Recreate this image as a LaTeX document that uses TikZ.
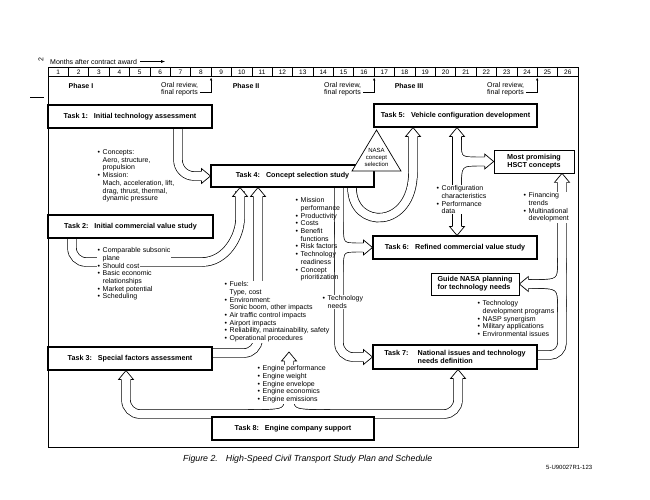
\documentclass[tikz,border=0pt]{standalone}
\usepackage{fontspec}
\setmainfont{Liberation Sans}
\usetikzlibrary{arrows.meta}
\pgfdeclarelayer{back}
\pgfdeclarelayer{arw}
\pgfsetlayers{back,arw,main}
\newcommand\mybul{\makebox[5pt][l]{\textbullet}}
\newcommand\myind{\hspace*{5pt}}
\newcommand\myfs[1]{\fontsize{#1}{7.7}\selectfont}
\newcommand\hsctshafts[1]{%
 \draw[#1, rounded corners=16pt] (178,0 |- t1.south) -- (178,176) -- (202,176);
 \draw[#1, rounded corners=14pt] (72,0 |- t2.south) -- (72,262) -- (188,262) .. controls (226,262) and (240,236) .. (240,205) -- (240,196);
 \draw[#1, rounded corners=14pt] (t3.east |- 0,353) -- (258,353) -- (258,196);
 \draw[#1] (352,0 |- t4.south) .. controls (352,230) and (413,230) .. (413,172) -- (413,136);
 \draw[#1, rounded corners=14pt] (339,0 |- t4.south) -- (339,357) -- (364,357);
 \draw[#1] (339,222) .. controls (339,247.5) .. (364,247.5);
 \draw[#1] (339,272) .. controls (339,247.5) .. (364,247.5);
 \draw[#1] (457,136) -- (457,227);
 \draw[#1] (457,140) .. controls (457,161.5) .. (485,161.5);
 \draw[#1] (457,192) .. controls (457,161.5) .. (485,161.5);
 \draw[#1, rounded corners=12pt] (t7.east |- 0,355) -- (562,355) -- (562,182);
 \draw[#1] (562,258) .. controls (562,284) .. (528,284);
 \draw[#1] (562,312) .. controls (562,284) .. (528,284);
 \draw[#1, rounded corners=14pt] (126,379) -- (126,414) -- (458,414) -- (458,378);
 \draw[#1] (248,414) .. controls (289,414) .. (289,390) -- (289,361);
 \draw[#1] (330,414) .. controls (289,414) .. (289,390);
}
\begin{document}
\begin{tikzpicture}[x=1pt,y=-1pt,
  taskbox/.style={draw, line width=1.1pt, fill=white, inner sep=0pt, font=\bfseries\myfs{7.2}, align=center},
  thinbox/.style={draw, line width=0.7pt, fill=white, inner sep=0pt, font=\bfseries\myfs{7.2}},
  lst/.style={anchor=north west, inner sep=0.5pt, font=\myfs{7}, align=left},
  lstm/.style={lst, fill=white},
  sh1/.style={draw=black, line width=9.4pt},
  sh2/.style={draw=white, line width=8pt},
  thin/.style={line width=0.6pt},
  hd/.pic={
    \fill[white] (-7.5,9) -- (0,0) -- (7.5,9) -- cycle;
    \draw[line width=0.7pt, line join=miter] (-4.7,9) -- (-7.5,9) -- (0,0) -- (7.5,9) -- (4.7,9);
  },
]
\useasboundingbox (0,0) rectangle (650,500);

% frame and schedule grid
\begin{pgfonlayer}{back}
\draw[thin] (48,67) rectangle (578,447);
\draw[thin] (48,76) -- (578,76);
\foreach \i in {1,...,25} \draw[thin] (48+\i*20.3846,67) -- (48+\i*20.3846,76);
\end{pgfonlayer}
\foreach \i in {1,...,26} \node[font=\myfs{6.5}, inner sep=0pt] (m\i) at (48+\i*20.3846-10.19,71.8) {\i};

\node[font=\myfs{7}, anchor=west, inner sep=0pt] (hdr) at (50,61.5) {Months after contract award};
\draw[thin, -{Latex[length=4pt,width=3pt]}] ([xshift=3pt]hdr.east) -- ++(25,0);
\node[font=\myfs{7}, rotate=90, inner sep=0pt] (pg) at (41,60) {2};
\draw[thin] (30,97) -- (44,97);

\node[font=\bfseries\myfs{7}, inner sep=0pt] (ph1) at (81,86) {Phase I};
\node[font=\bfseries\myfs{7}, inner sep=0pt] (ph2) at (246,86) {Phase II};
\node[font=\bfseries\myfs{7}, inner sep=0pt] (ph3) at (409,86) {Phase III};

\node[lst, inner sep=0pt] (or1) at (161,82) {Oral review,\\final reports};
\node[lst, inner sep=0pt] (or2) at (324,82) {Oral review,\\final reports};
\node[lst, inner sep=0pt] (or3) at (487,82) {Oral review,\\final reports};
\draw[thin, -{Latex[length=3pt,width=2.6pt]}] ([xshift=1.5pt,yshift=4pt]or1.south east) -| (211.1,77.5);
\draw[thin, -{Latex[length=3pt,width=2.6pt]}] ([xshift=1.5pt,yshift=4pt]or2.south east) -| (374.2,77.5);
\draw[thin, -{Latex[length=3pt,width=2.6pt]}] ([xshift=1.5pt,yshift=4pt]or3.south east) -| (537.2,77.5);

% boxes
\node[taskbox, minimum width=164pt, minimum height=23pt] (t1) at (130,116.5) {Task 1:\hspace{6pt}Initial technology assessment};
\node[taskbox, minimum width=165pt, minimum height=23pt] (t2) at (130.5,226.5) {Task 2:\hspace{6pt}Initial commercial value study};
\node[taskbox, minimum width=164pt, minimum height=23pt] (t3) at (130,358.5) {Task 3:\hspace{6pt}Special factors assessment};
\node[taskbox, minimum width=163pt, minimum height=22pt] (t4) at (292.5,176) {Task 4:\hspace{6pt}Concept selection study};
\node[taskbox, minimum width=163pt, minimum height=23pt] (t5) at (455.5,115.5) {Task 5:\hspace{6pt}Vehicle configuration development};
\node[taskbox, minimum width=164pt, minimum height=23pt] (t6) at (455,247.5) {Task 6:\hspace{6pt}Refined commercial value study};
\node[taskbox, minimum width=164pt, minimum height=24pt, align=left] (t7) at (455,357) {Task 7:\hspace{9pt}National issues and technology\\\phantom{Task 7:}\hspace{9pt}needs definition};
\node[taskbox, minimum width=162pt, minimum height=23pt] (t8) at (293,428.5) {Task 8:\hspace{6pt}Engine company support};
\node[thinbox, minimum width=80pt, minimum height=23pt, align=center] (mp) at (534,161.5) {Most promising\\HSCT concepts};
\node[thinbox, minimum width=88pt, minimum height=22pt, align=left] (gn) at (475,284) {Guide NASA planning\\for technology needs};

\draw[line width=0.7pt, fill=white, line join=miter] (352,171) -- (376.5,130) -- (401,171) -- cycle;
\node[font=\fontsize{6}{7.2}\selectfont, align=center, inner sep=0pt] (nasa) at (376.5,157.5) {NASA\\concept\\selection};

% lists
\node[lst] (l1) at (97,149) {\mybul Concepts:\\ \myind Aero, structure,\\ \myind propulsion\\ \mybul Mission:\\ \myind Mach, acceleration, lift,\\ \myind drag, thrust, thermal,\\ \myind dynamic pressure};
\node[lstm] (l2a) at (97,247) {\mybul Comparable subsonic\\ \myind plane};
\node[lstm] (l2b) at (97,262.4) {\mybul Should cost};
\node[lst] (l2c) at (97,270.1) {\mybul Basic economic\\ \myind relationships\\ \mybul Market potential\\ \mybul Scheduling};
\node[lst] (l3) at (295,197) {\mybul Mission\\ \myind performance\\ \mybul Productivity\\ \mybul Costs\\ \mybul Benefit\\ \myind functions\\ \mybul Risk factors\\ \mybul Technology\\ \myind readiness\\ \mybul Concept\\ \myind prioritization};
\node[lstm] (l5) at (224,281) {\mybul Fuels:\\ \myind Type, cost\\ \mybul Environment:\\ \myind Sonic boom, other impacts\\ \mybul Air traffic control impacts\\ \mybul Airport impacts\\ \mybul Reliability, maintainability, safety\\ \mybul Operational procedures};
\node[lstm] (l4) at (322,295) {\mybul Technology\\ \myind needs};
\node[lstm] (l6) at (257,365) {\mybul Engine performance\\ \mybul Engine weight\\ \mybul Engine envelope\\ \mybul Engine economics\\ \mybul Engine emissions};
\node[lstm] (l7) at (436,185) {\mybul Configuration\\ \myind characteristics\\ \mybul Performance\\ \myind data};
\node[lstm] (l8) at (523,192) {\mybul Financing\\ \myind trends\\ \mybul Multinational\\ \myind development};
\node[lst] (l9) at (477,300) {\mybul Technology\\ \myind development programs\\ \mybul NASP synergism\\ \mybul Military applications\\ \mybul Environmental issues};

\coordinate (engtip) at (289,352);

% block arrows
\begin{pgfonlayer}{arw}
\hsctshafts{sh1}
\hsctshafts{sh2}
\pic at (240,0 |- t4.south) {hd};
\pic at (258,0 |- t4.south) {hd};
\pic[rotate=-90] at (t4.west |- 0,176) {hd};
\pic at (413,0 |- t5.south) {hd};
\pic[rotate=-90] at (t6.west) {hd};
\pic[rotate=-90] at (t7.west) {hd};
\pic at (457,0 |- t5.south) {hd};
\pic[rotate=180] at (457,0 |- t6.north) {hd};
\pic[rotate=-90] at (mp.west) {hd};
\pic at (562,0 |- mp.south) {hd};
\pic[rotate=90] at (gn.east) {hd};
\pic at (126,0 |- t3.south) {hd};
\pic at (458,0 |- t7.south) {hd};
\pic at (engtip) {hd};
\end{pgfonlayer}

% caption
\node[font=\itshape\fontsize{8.8}{10}\selectfont, anchor=west, inner sep=0pt] (cap) at (183,459) {Figure 2.\hspace{8pt}High-Speed Civil Transport Study Plan and Schedule};
\node[font=\myfs{6}, anchor=west, inner sep=0pt] (code) at (546,467.5) {5-U90027R1-123};
\end{tikzpicture}
\end{document}
